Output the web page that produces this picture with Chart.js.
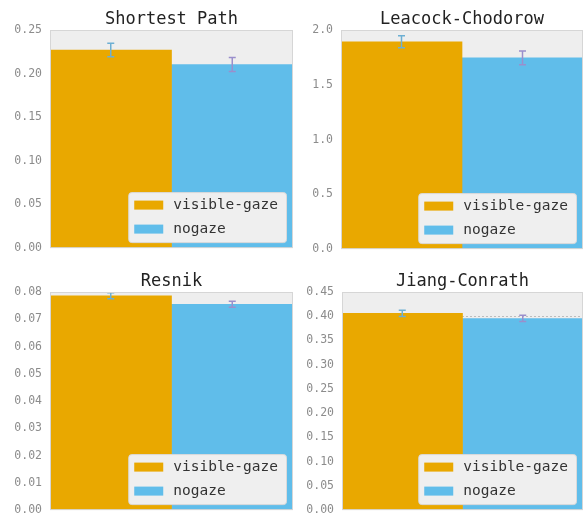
<!DOCTYPE html>
<html lang="en">
<head>
    <meta charset="UTF-8">
    <title>Similarity scores</title>
    <style>
        body {
            margin: 0;
            background: white;
            overflow: hidden;
            font-family: "DejaVu Sans Mono", monospace;
        }
        #wrap {
            position: relative;
            width: 586px;
            height: 517px;
            overflow: hidden;
        }
        canvas {
            position: absolute;
            display: block;
        }
    </style>
    <script src="https://cdn.jsdelivr.net/npm/chart.js"></script>
</head>
<body>
    <div id="wrap">
        <canvas id="c0" width="296" height="263" style="left:0px; top:0px;"></canvas>
        <canvas id="c1" width="295" height="264" style="left:291px; top:0px;"></canvas>
        <canvas id="c2" width="296" height="263" style="left:0px; top:262px;"></canvas>
        <canvas id="c3" width="294" height="263" style="left:292px; top:262px;"></canvas>
    </div>
    <script>
        const titles = ['Shortest Path', 'Leacock-Chodorow', 'Resnik', 'Jiang-Conrath'];
        const seriesNames = ['visible-gaze', 'nogaze'];
        const visibleGaze = [0.227, 1.893, 0.0786, 0.4058];
        const noGaze = [0.2105, 1.746, 0.0755, 0.3954];
        const visibleErr = [0.0077, 0.055, 0.0011, 0.0065];
        const noGazeErr = [0.008, 0.063, 0.0011, 0.0065];
        const yMax = [0.25, 2.0, 0.08, 0.45];
        const yStep = [0.05, 0.5, 0.01, 0.05];
        const yDecimals = [2, 1, 2, 2];

        const orange = '#E9A800';
        const sky = '#60BDEA';
        const errColors = ['#6DAFD3', '#9A8FCC'];

        // grey panel background, frame and title
        const panelBg = {
            id: 'panelBg',
            beforeDraw(chart) {
                const a = chart.chartArea, ctx = chart.ctx;
                ctx.save();
                ctx.fillStyle = '#EEEEEE';
                ctx.fillRect(a.left, a.top, a.right - a.left, a.bottom - a.top);
                ctx.restore();
            },
            afterDraw(chart) {
                const a = chart.chartArea, ctx = chart.ctx;
                ctx.save();
                ctx.strokeStyle = '#D6D6D6';
                ctx.lineWidth = 1;
                ctx.strokeRect(a.left + 0.5, a.top + 0.5, a.right - a.left - 1, a.bottom - a.top - 1);
                ctx.fillStyle = '#222222';
                ctx.font = '17px "DejaVu Sans Mono"';
                ctx.textAlign = 'center';
                ctx.textBaseline = 'middle';
                ctx.fillText(chart.options.plugins.panelBg.title, (a.left + a.right) / 2, 19.5);
                ctx.restore();
            }
        };

        // error bars from the err values
        const errorBars = {
            id: 'errorBars',
            afterDatasetsDraw(chart) {
                const ctx = chart.ctx, y = chart.scales.y;
                ctx.save();
                chart.data.datasets.forEach((ds, i) => {
                    const bar = chart.getDatasetMeta(i).data[0];
                    const v = ds.data[0], e = ds.err;
                    const top = y.getPixelForValue(v + e), bot = y.getPixelForValue(v - e);
                    ctx.strokeStyle = errColors[i];
                    ctx.lineWidth = 1.5;
                    ctx.beginPath();
                    ctx.moveTo(bar.x, top); ctx.lineTo(bar.x, bot);
                    ctx.moveTo(bar.x - 3.5, top); ctx.lineTo(bar.x + 3.5, top);
                    ctx.moveTo(bar.x - 3.5, bot); ctx.lineTo(bar.x + 3.5, bot);
                    ctx.stroke();
                });
                ctx.restore();
            }
        };

        // legend box in the lower right of the plot
        const cornerLegend = {
            id: 'cornerLegend',
            afterDraw(chart) {
                const a = chart.chartArea, ctx = chart.ctx;
                ctx.save();
                ctx.font = '14.5px "DejaVu Sans Mono"';
                const tw = Math.max(...chart.data.datasets.map(d => ctx.measureText(d.label).width));
                const w = tw + 53, h = 50;
                const x0 = a.right - 7 - w, y0 = a.bottom - 6 - h;
                ctx.fillStyle = '#EFEFEF';
                ctx.strokeStyle = '#DADADA';
                ctx.lineWidth = 1;
                ctx.beginPath();
                ctx.roundRect(x0 + 0.5, y0 + 0.5, w, h, 3);
                ctx.fill();
                ctx.stroke();
                chart.data.datasets.forEach((ds, i) => {
                    const cy = y0 + 13 + i * 24;
                    ctx.fillStyle = ds.backgroundColor;
                    ctx.fillRect(x0 + 6, cy - 4.5, 29, 9);
                    ctx.fillStyle = '#333333';
                    ctx.textAlign = 'left';
                    ctx.textBaseline = 'middle';
                    ctx.fillText(ds.label, x0 + 45, cy);
                });
                ctx.restore();
            }
        };

        titles.forEach((t, k) => {
            new Chart(document.getElementById('c' + k), {
                type: 'bar',
                data: {
                    labels: [''],
                    datasets: [
                        { label: seriesNames[0], data: [visibleGaze[k]], err: visibleErr[k], backgroundColor: orange },
                        { label: seriesNames[1], data: [noGaze[k]], err: noGazeErr[k], backgroundColor: sky }
                    ]
                },
                options: {
                    responsive: false,
                    animation: false,
                    datasets: { bar: { categoryPercentage: 1, barPercentage: 1 } },
                    layout: { padding: { top: 30, right: 3, bottom: 3, left: 0 } },
                    scales: {
                        x: { display: false },
                        y: {
                            min: 0,
                            max: yMax[k],
                            afterFit(scale) { scale.width = 50; },
                            ticks: {
                                stepSize: yStep[k],
                                padding: 8,
                                color: '#8C8C8C',
                                font: { family: 'DejaVu Sans Mono', size: 11.5 },
                                callback: v => Number(v).toFixed(yDecimals[k])
                            },
                            grid: {
                                color: c => (c.tick && c.tick.value > 0 && c.tick.value < yMax[k] - 1e-9) ? '#BDBDBD' : 'rgba(0,0,0,0)',
                                drawTicks: false,
                                lineWidth: 1
                            },
                            border: { display: false, dash: [2, 2] }
                        }
                    },
                    plugins: {
                        legend: { display: false },
                        tooltip: { enabled: false },
                        panelBg: { title: t }
                    }
                },
                plugins: [panelBg, errorBars, cornerLegend]
            });
        });
    </script>
</body>
</html>
